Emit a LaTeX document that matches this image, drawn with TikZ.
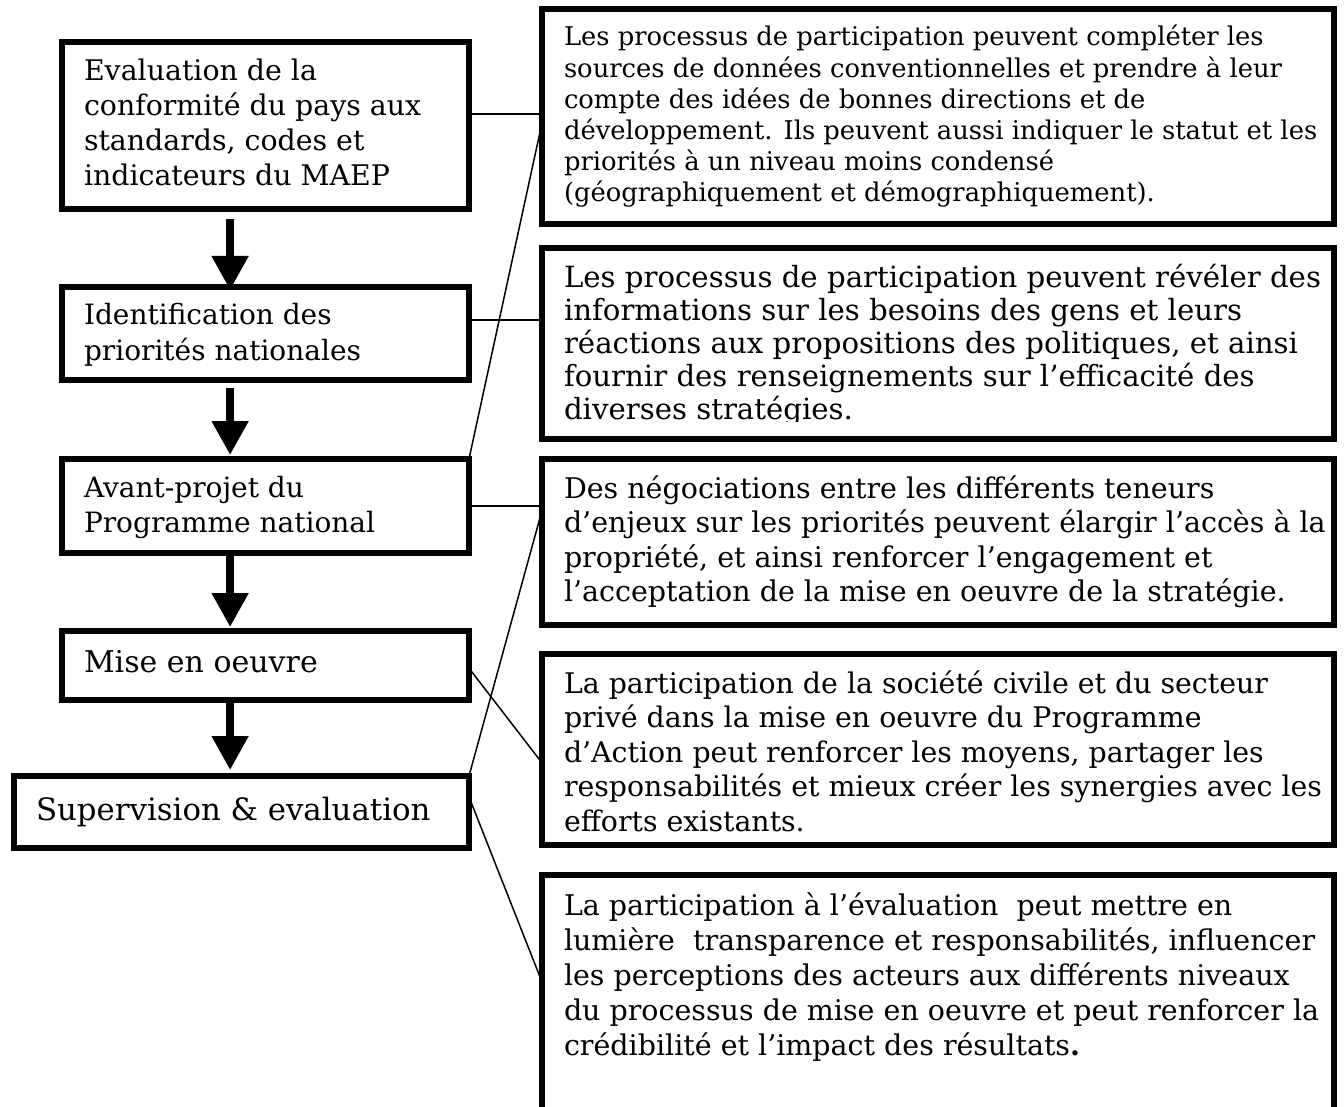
\documentclass[tikz,border=0pt]{standalone}
\usepackage{fontspec}
\setmainfont{DejaVu Serif}
\usetikzlibrary{arrows.meta,calc,fit}
\newcommand\txtlines[3]{\fontsize{#1}{#2}\selectfont\vtop{\halign{##\hfil\cr#3\crcr}}}
\tikzset{
  box/.style={draw=black, line width=3pt, inner sep=0pt, outer sep=0pt},
  txt/.style={inner sep=0pt, outer sep=0pt, anchor=base west, text=black},
  conn/.style={draw=black, line width=0.75pt},
  bigarrow/.style={draw=black, line width=4pt, -{Triangle[width=17.5pt,length=17pt]}},
}
\begin{document}
\begin{tikzpicture}[x=0.5pt,y=-0.5pt]
\useasboundingbox (0,0) rectangle (1344,1107);
\fill[white] (0,0) rectangle (1344,1107);
\clip (0,0) rectangle (1344,1107);

% left column boxes
\node[box, fit={(62,42) (469,209)}] (b1) {};
\node[box, fit={(62,287) (469,380)}] (b2) {};
\node[box, fit={(62,459) (469,553)}] (b3) {};
\node[box, fit={(62,631) (469,700)}] (b4) {};
\node[box, fit={(14,776) (469,848)}] (b5) {};

\node[txt] (t1) at (84,81) {\txtlines{14.2pt}{17.5pt}{Evaluation de la\cr conformité du pays aux\cr standards, codes et\cr indicateurs du MAEP}};
\node[txt] (t2) at (84,325) {\txtlines{14pt}{17.5pt}{Identification des\cr priorités nationales}};
\node[txt] (t3) at (84,497) {\txtlines{14pt}{17.5pt}{Avant-projet du\cr Programme national}};
\node[txt] (t4) at (84,672) {\txtlines{15pt}{17.5pt}{Mise en oeuvre}};
\node[txt] (t5) at (36,820) {\txtlines{15.4pt}{17.5pt}{Supervision \& evaluation}};

% right column boxes
\node[box, fit={(542,9) (1334,224)}] (r1) {};
\node[box, fit={(542,248) (1334,439)}] (r2) {};
\node[box, fit={(542,459) (1334,625)}] (r3) {};
\node[box, fit={(542,654) (1334,845)}] (r4) {};
\node[box, fit={(542,875) (1334,1140)}] (r5) {};

\node[txt] (s1) at (564,46) {\txtlines{12.9pt}{15.6pt}{Les processus de participation peuvent compléter les\cr sources de données conventionnelles et prendre à leur\cr compte des idées de bonnes directions et de\cr développement. Ils peuvent aussi indiquer le statut et les\cr priorités à un niveau moins condensé\cr (géographiquement et démographiquement).}};
\begin{scope}
\clip (545,250) rectangle (1331,421);
\node[txt] (s2) at (564,288) {\txtlines{14.6pt}{16.4pt}{Les processus de participation peuvent révéler des\cr informations sur les besoins des gens et leurs\cr réactions aux propositions des politiques, et ainsi\cr fournir des renseignements sur l’efficacité des\cr diverses stratégies.}};
\end{scope}
\node[txt] (s3) at (564,498) {\txtlines{14.25pt}{17.25pt}{Des négociations entre les différents teneurs\cr d’enjeux sur les priorités peuvent élargir l’accès à la\cr propriété, et ainsi renforcer l’engagement et\cr l’acceptation de la mise en oeuvre de la stratégie.}};
\node[txt] (s4) at (564,693) {\txtlines{14.2pt}{17.25pt}{La participation de la société civile et du secteur\cr privé dans la mise en oeuvre du Programme\cr d’Action peut renforcer les moyens, partager les\cr responsabilités et mieux créer les synergies avec les\cr efforts existants.}};
\node[txt] (s5) at (564,915) {\txtlines{14.25pt}{17.5pt}{La participation à l’évaluation\ \ peut mettre en\cr lumière\ \ transparence et responsabilités, influencer\cr les perceptions des acteurs aux différents niveaux\cr du processus de mise en oeuvre et peut renforcer la\cr crédibilité et l’impact des résultats\textbf{.}}};

% flow arrows
\draw[bigarrow, shorten <=5pt, shorten >=-1.5pt] ($(b1.south west)!0.413!(b1.south east)$) coordinate (a1) -- (a1 |- b2.north);
\draw[bigarrow, shorten <=4pt, shorten >=2pt] ($(b2.south west)!0.413!(b2.south east)$) coordinate (a2) -- (a2 |- b3.north);
\draw[bigarrow, shorten <=1.5pt, shorten >=2pt] ($(b3.south west)!0.413!(b3.south east)$) coordinate (a3) -- (a3 |- b4.north);
\draw[bigarrow, shorten <=1.5pt, shorten >=3pt] ($(b4.south west)!0.413!(b4.south east)$) coordinate (a4) -- (a4 |- b5.north);

% connectors
\draw[conn] ($(b1.north east)!0.43!(b1.south east)$) coordinate (p1) -- (p1 -| r1.west);
\draw[conn] ($(b2.north east)!0.355!(b2.south east)$) coordinate (p2) -- (p2 -| r2.west);
\draw[conn] (b3.east) -- (b3.east -| r3.west);
\draw[conn] (b3.north east) -- ($(r1.north west)!0.53!(r1.south west)$);
\draw[conn] (b5.north east) -- ($(r3.north west)!0.31!(r3.south west)$);
\draw[conn] ($(b4.north east)!0.54!(b4.south east)$) -- ($(r4.north west)!0.57!(r4.south west)$);
\draw[conn] ($(b5.north east)!0.29!(b5.south east)$) -- ($(r5.north west)+(0,107)$);
\end{tikzpicture}
\end{document}
